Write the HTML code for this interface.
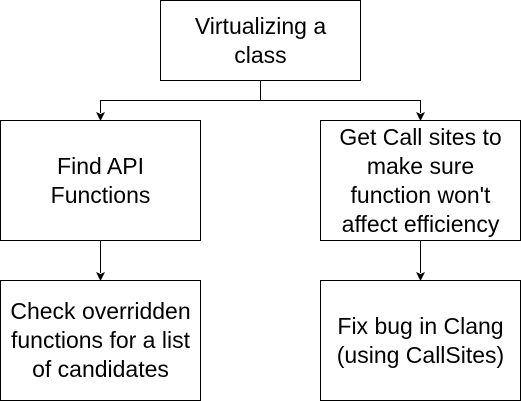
<!DOCTYPE html>
<html><head><style>
html,body{margin:0;padding:0;background:#fff;width:521px;height:401px;overflow:hidden}
.b{position:absolute;box-sizing:border-box;border:1px solid #000;background:#fff;display:flex;align-items:center;justify-content:center;text-align:center;font-family:"Liberation Sans",sans-serif;font-size:23px;line-height:29px;color:#000}
</style></head><body>
<svg width="521" height="401" style="position:absolute;left:0;top:0">
<g stroke="#000" stroke-width="1" fill="none">
<path d="M260.5 80 V100.5 H100.5 V113 M260.5 100.5 H420.5 V113"/>
<path d="M100.5 240 V273 M420.5 240 V273"/>
</g>
<g fill="#000">
<path d="M96 112 L100.5 121 L105 112 L100.5 114Z"/>
<path d="M416 112 L420.5 121 L425 112 L420.5 114Z"/>
<path d="M96 272 L100.5 281 L105 272 L100.5 274Z"/>
<path d="M416 272 L420.5 281 L425 272 L420.5 274Z"/>
</g>
</svg>
<div class="b" style="left:160px;top:0;width:201px;height:81px">Virtualizing a<br>class</div>
<div class="b" style="left:0;top:120px;width:201px;height:121px">Find API<br>Functions</div>
<div class="b" style="left:320px;top:120px;width:201px;height:121px">Get Call sites to<br>make sure<br>function won't<br>affect efficiency</div>
<div class="b" style="left:0;top:280px;width:201px;height:121px">Check overridden<br>functions for a list<br>of candidates</div>
<div class="b" style="left:320px;top:280px;width:201px;height:121px">Fix bug in Clang<br>(using CallSites)</div>
</body></html>
